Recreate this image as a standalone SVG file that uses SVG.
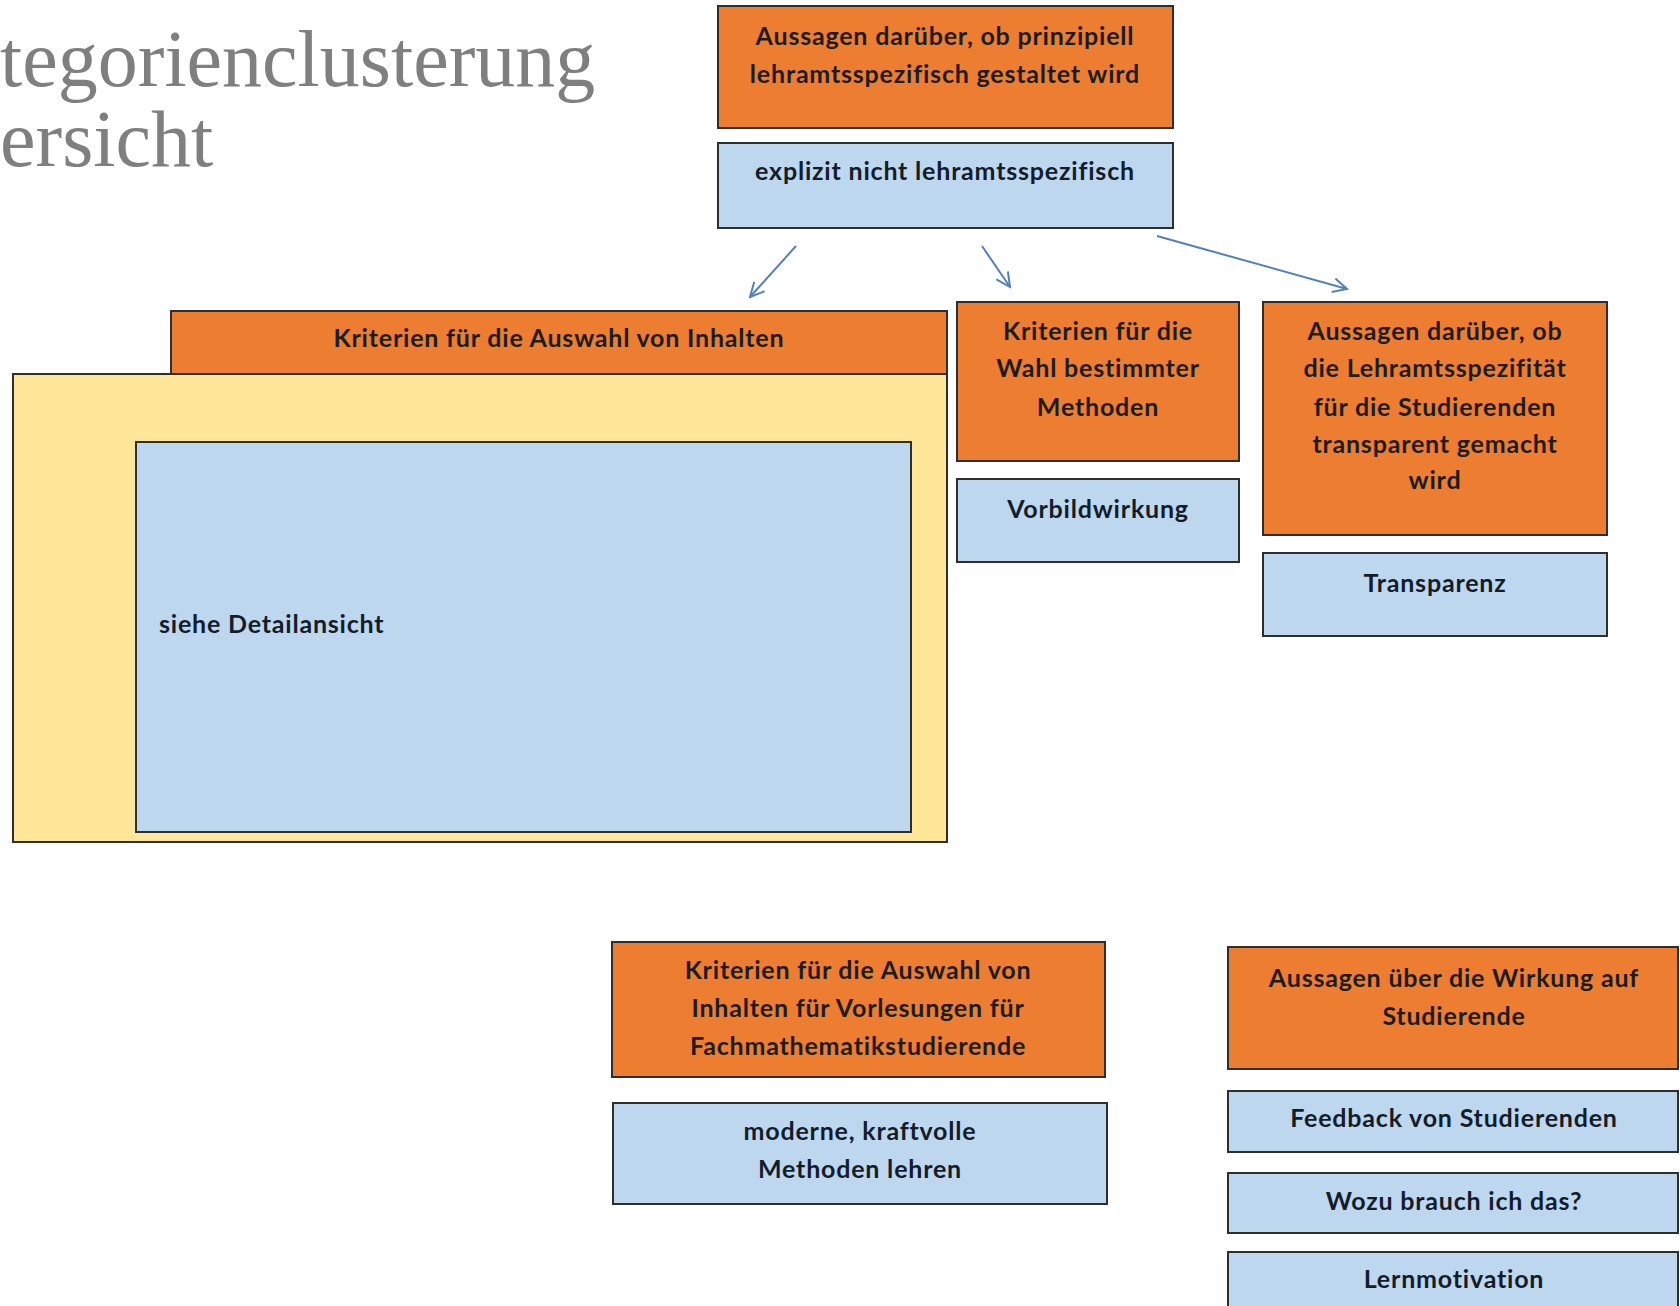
<svg xmlns="http://www.w3.org/2000/svg" width="1680" height="1306" viewBox="0 0 1680 1306">
<defs>
<style>
.org{fill:#ed7d31;stroke:#2e2e2e;stroke-width:2}
.blu{fill:#bdd7ee;stroke:#2e2e2e;stroke-width:2}
.yel{fill:#ffe699;stroke:#2e2e2e;stroke-width:2}
.t{font-family:Lato,"Liberation Sans",sans-serif;font-weight:700;font-size:25px;letter-spacing:0.8px;fill:#1c1c1c;text-anchor:middle}
.tb{fill:#141c2a}
.title{font-family:"Liberation Serif",serif;font-size:80px;fill:#7f7f7f}
.con{stroke:#4f81bd;stroke-width:2;fill:none}
</style>
<marker id="arr" markerUnits="userSpaceOnUse" markerWidth="18" markerHeight="18" viewBox="0 0 18 18" refX="16" refY="9" orient="auto">
<path d="M2,2 L16,9 L2,16" fill="none" stroke="#4f81bd" stroke-width="2"/>
</marker>
</defs>
<rect width="1680" height="1306" fill="#ffffff"/>

<g id="title">
<text class="title" x="0" y="86">tegorienclusterung</text>
<text class="title" x="0" y="166">ersicht</text>
</g>

<g id="n-top">
<rect class="org" x="718" y="6" width="455" height="122"/>
<text class="t" x="945" y="45">Aussagen darüber, ob prinzipiell</text>
<text class="t" x="945" y="83">lehramtsspezifisch gestaltet wird</text>
</g>
<g id="n-explizit">
<rect class="blu" x="718" y="143" width="455" height="85"/>
<text class="t tb" x="945" y="180">explizit nicht lehramtsspezifisch</text>
</g>

<g id="n-inhalte">
<rect class="org" x="171" y="311" width="776" height="63"/>
<text class="t" x="559" y="347">Kriterien für die Auswahl von Inhalten</text>
</g>
<g id="n-inhalte-body">
<rect class="yel" x="13" y="374" width="934" height="468"/>
<rect class="blu" x="136" y="442" width="775" height="390"/>
<text class="t tb" x="159" y="633" style="text-anchor:start">siehe Detailansicht</text>
</g>

<g id="n-methoden">
<rect class="org" x="957" y="302" width="282" height="159"/>
<text class="t" x="1098" y="340">Kriterien für die</text>
<text class="t" x="1098" y="377">Wahl bestimmter</text>
<text class="t" x="1098" y="416">Methoden</text>
</g>
<g id="n-vorbild">
<rect class="blu" x="957" y="479" width="282" height="83"/>
<text class="t tb" x="1098" y="518">Vorbildwirkung</text>
</g>

<g id="n-transparent">
<rect class="org" x="1263" y="302" width="344" height="233"/>
<text class="t" x="1435" y="340">Aussagen darüber, ob</text>
<text class="t" x="1435" y="377">die Lehramtsspezifität</text>
<text class="t" x="1435" y="416">für die Studierenden</text>
<text class="t" x="1435" y="453">transparent gemacht</text>
<text class="t" x="1435" y="489">wird</text>
</g>
<g id="n-transparenz">
<rect class="blu" x="1263" y="553" width="344" height="83"/>
<text class="t tb" x="1435" y="592">Transparenz</text>
</g>

<g id="n-fachmathe">
<rect class="org" x="612" y="942" width="493" height="135"/>
<text class="t" x="858" y="979">Kriterien für die Auswahl von</text>
<text class="t" x="858" y="1017">Inhalten für Vorlesungen für</text>
<text class="t" x="858" y="1055">Fachmathematikstudierende</text>
</g>
<g id="n-moderne">
<rect class="blu" x="613" y="1103" width="494" height="101"/>
<text class="t tb" x="860" y="1140">moderne, kraftvolle</text>
<text class="t tb" x="860" y="1178">Methoden lehren</text>
</g>

<g id="n-wirkung">
<rect class="org" x="1228" y="947" width="450" height="122"/>
<text class="t" x="1454" y="987">Aussagen über die Wirkung auf</text>
<text class="t" x="1454" y="1025">Studierende</text>
</g>
<g id="n-feedback">
<rect class="blu" x="1228" y="1091" width="450" height="61"/>
<text class="t tb" x="1454" y="1127">Feedback von Studierenden</text>
</g>
<g id="n-wozu">
<rect class="blu" x="1228" y="1173" width="450" height="60"/>
<text class="t tb" x="1454" y="1210">Wozu brauch ich das?</text>
</g>
<g id="n-lernmotivation">
<rect class="blu" x="1228" y="1252" width="450" height="70"/>
<text class="t tb" x="1454" y="1288">Lernmotivation</text>
</g>

<g id="connectors">
<line class="con" x1="796" y1="246" x2="750" y2="297" marker-end="url(#arr)"/>
<line class="con" x1="982" y1="246" x2="1010" y2="287" marker-end="url(#arr)"/>
<line class="con" x1="1157" y1="236" x2="1347" y2="289" marker-end="url(#arr)"/>
</g>
</svg>
